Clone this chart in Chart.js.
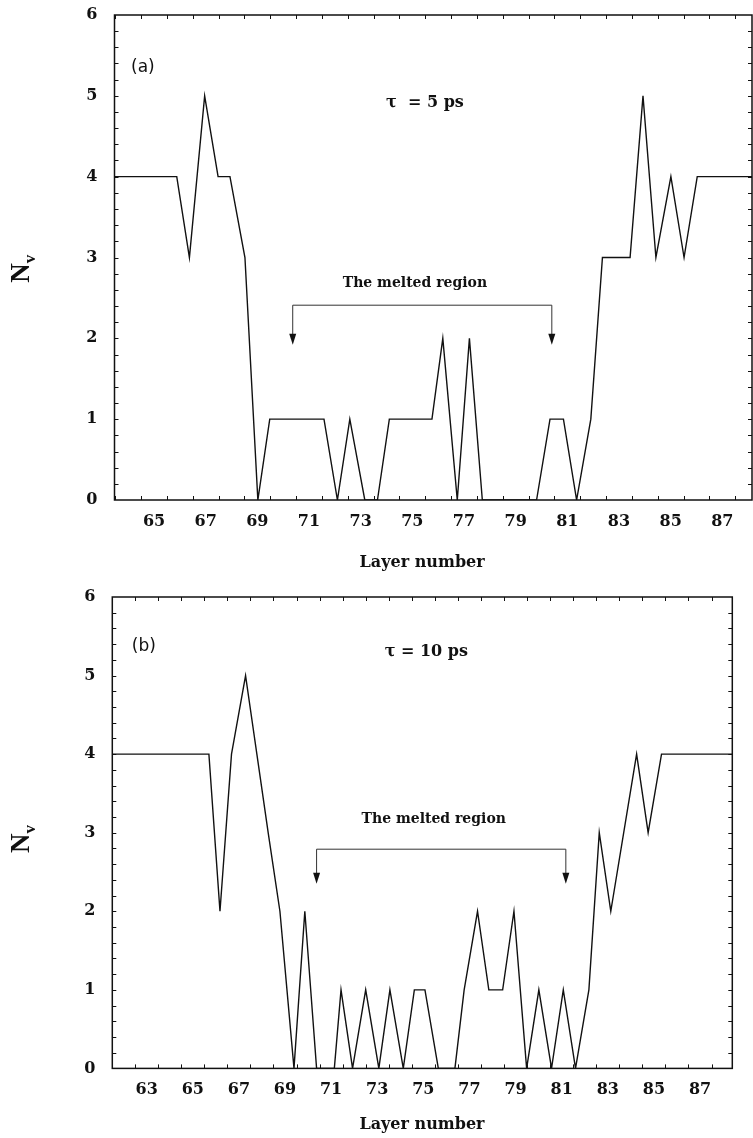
<!DOCTYPE html>
<html><head><meta charset="utf-8">
<script src="https://cdn.jsdelivr.net/npm/chart.js@4/dist/chart.umd.min.js"></script>
<style>
html,body{margin:0;padding:0;background:#fff;}
#wrap{position:relative;width:753px;height:1138px;background:#fff;}
canvas{position:absolute;left:0;}
</style></head><body>
<div id="wrap">
<canvas id="ca" width="753" height="582" style="top:0px"></canvas>
<canvas id="cb" width="753" height="556" style="top:582px"></canvas>
</div>
<script>
// ---- Panel (a): tau = 5 ps ----
const layersA = [63.47, 65.88, 66.37, 66.96, 67.48, 67.94, 68.52, 69.02, 69.48, 71.58, 72.10, 72.58, 73.16, 73.65, 74.11, 75.76, 76.18, 76.74, 77.21, 77.71, 79.81, 80.33, 80.85, 81.36, 81.91, 82.36, 83.43, 83.93, 84.43, 85.01, 85.52, 86.03, 88.15];
const nvA     = [4, 4, 3, 5, 4, 4, 3, 0, 1, 1, 0, 1, 0, 0, 1, 1, 2, 0, 2, 0, 0, 1, 1, 0, 1, 3, 3, 5, 3, 4, 3, 4, 4];
const xLabelsA = [65, 67, 69, 71, 73, 75, 77, 79, 81, 83, 85, 87];
const bracketA = [70.37, 80.40];   // layer positions of the two arrows
const bracketYA = [2.41, 1.92];    // bracket level, arrow tip level

// ---- Panel (b): tau = 10 ps ----
const layersB = [61.51, 65.70, 66.18, 66.68, 67.29, 67.78, 68.27, 68.78, 69.39, 69.86, 70.37, 71.14, 71.43, 71.93, 72.50, 73.07, 73.55, 74.13, 74.61, 75.07, 75.65, 76.37, 76.77, 77.35, 77.84, 78.44, 78.93, 79.48, 80.01, 80.56, 81.07, 81.60, 82.18, 82.63, 83.13, 84.25, 84.75, 85.33, 88.40];
const nvB     = [4, 4, 2, 4, 5, 4, 3, 2, 0, 2, 0, 0, 1, 0, 1, 0, 1, 0, 1, 1, 0, 0, 1, 2, 1, 1, 2, 0, 1, 0, 1, 0, 1, 3, 2, 4, 3, 4, 4];
const xLabelsB = [63, 65, 67, 69, 71, 73, 75, 77, 79, 81, 83, 85, 87];
const bracketB = [70.37, 81.18];
const bracketYB = [2.79, 2.35];

const yLabels = [0, 1, 2, 3, 4, 5, 6];

const SERIF = '"DejaVu Serif", "Liberation Serif", serif';

const framePlugin = {
  id: 'frame',
  afterDatasetsDraw(chart, args, o) {
    const ctx = chart.ctx, a = chart.chartArea, x = chart.scales.x, y = chart.scales.y;
    ctx.save();
    ctx.strokeStyle = '#111';
    // ticks
    ctx.lineWidth = 1;
    ctx.beginPath();
    for (let v = Math.ceil(x.min - 0.5) + 0.5; v < x.max; v += 1) {
      const px = Math.round(x.getPixelForValue(v)) + 0.5;
      ctx.moveTo(px, a.bottom); ctx.lineTo(px, a.bottom - 4);
      ctx.moveTo(px, a.top); ctx.lineTo(px, a.top + 4);
    }
    for (let i = 1; i < 30; i++) {
      const py = Math.round(y.getPixelForValue(i * 0.2)) + 0.5;
      ctx.moveTo(a.left, py); ctx.lineTo(a.left + 4, py);
      ctx.moveTo(a.right, py); ctx.lineTo(a.right - 4, py);
    }
    ctx.stroke();
    // frame
    ctx.lineWidth = 1.5;
    ctx.strokeRect(a.left, a.top, a.right - a.left, a.bottom - a.top);
    // bracket with arrows
    const bx1 = x.getPixelForValue(o.bracket[0]), bx2 = x.getPixelForValue(o.bracket[1]);
    const by = y.getPixelForValue(o.bracketY[0]), tip = y.getPixelForValue(o.bracketY[1]);
    ctx.lineWidth = 1;
    ctx.strokeStyle = '#333';
    ctx.beginPath();
    ctx.moveTo(bx1, tip - 6); ctx.lineTo(bx1, by); ctx.lineTo(bx2, by); ctx.lineTo(bx2, tip - 6);
    ctx.stroke();
    ctx.fillStyle = '#111';
    [bx1, bx2].forEach(bx => {
      ctx.beginPath();
      ctx.moveTo(bx - 3.5, tip - 11); ctx.lineTo(bx + 3.5, tip - 11); ctx.lineTo(bx, tip);
      ctx.closePath(); ctx.fill();
    });
    // texts
    ctx.fillStyle = '#111';
    ctx.textAlign = 'center'; ctx.textBaseline = 'middle';
    ctx.font = '17px "DejaVu Sans", sans-serif';
    ctx.fillText(o.panel, x.getPixelForValue(o.panelPos[0]), y.getPixelForValue(o.panelPos[1]));
    ctx.font = 'bold 16px ' + SERIF;
    ctx.fillText(o.tau, x.getPixelForValue(o.tauPos[0]), y.getPixelForValue(o.tauPos[1]));
    ctx.font = 'bold 14px ' + SERIF;
    ctx.fillText('The melted region', x.getPixelForValue(o.meltPos[0]), y.getPixelForValue(o.meltPos[1]));
    ctx.font = 'bold 16px ' + SERIF;
    ctx.fillText('Layer number', x.getPixelForValue(o.titleX), a.bottom + o.titleDy);
    // rotated N_v
    ctx.save();
    ctx.translate(a.left - o.nvDx, y.getPixelForValue(o.nvY));
    ctx.rotate(-Math.PI / 2);
    ctx.textAlign = 'left'; ctx.textBaseline = 'alphabetic';
    ctx.font = 'bold 27px "Liberation Serif", serif';
    const wN = ctx.measureText('N').width;
    ctx.font = 'bold 17px "Liberation Serif", serif';
    const wv = ctx.measureText('v').width;
    const start = -(wN + wv) / 2;
    ctx.font = 'bold 27px "Liberation Serif", serif';
    ctx.fillText('N', start, 0);
    ctx.font = 'bold 17px "Liberation Serif", serif';
    ctx.fillText('v', start + wN, 6);
    ctx.restore();
    ctx.restore();
  }
};

function makeChart(id, xs, ys, labels, geom, opts) {
  const H = geom.H;
  return new Chart(document.getElementById(id), {
    type: 'line',
    data: {
      datasets: [{
        data: xs.map((v, i) => ({ x: v, y: ys[i] })),
        borderColor: '#111', borderWidth: 1.4, pointRadius: 0, tension: 0, fill: false
      }]
    },
    options: {
      responsive: false, animation: false, devicePixelRatio: 1,
      layout: { padding: { top: geom.top, right: 753 - geom.right, left: 0, bottom: 0 } },
      plugins: { legend: { display: false }, tooltip: { enabled: false }, frame: opts },
      scales: {
        x: {
          type: 'linear', min: geom.xmin, max: geom.xmax,
          grid: { display: false, drawTicks: false }, border: { display: false },
          afterBuildTicks: s => { s.ticks = labels.map(v => ({ value: v })); },
          afterFit: s => { s.height = H - geom.bottom; s.paddingLeft = 0; s.paddingRight = 0; },
          ticks: { color: '#111', padding: 12, font: { family: SERIF, size: 16, weight: 'bold' }, maxRotation: 0, autoSkip: false, callback: v => String(v) }
        },
        y: {
          type: 'linear', min: 0, max: 6,
          grid: { display: false, drawTicks: false }, border: { display: false },
          afterBuildTicks: s => { s.ticks = yLabels.map(v => ({ value: v })); },
          afterFit: s => { s.width = geom.left; s.paddingTop = 0; s.paddingBottom = 0; },
          ticks: { color: '#111', padding: 17, font: { family: SERIF, size: 16, weight: 'bold' }, callback: v => String(v) }
        }
      }
    },
    plugins: [framePlugin]
  });
}

makeChart('ca', layersA, nvA, xLabelsA,
  { H: 582, top: 15, bottom: 500, left: 114.5, right: 752, xmin: 63.47, xmax: 88.15 },
  { bracket: bracketA, bracketY: bracketYA, panel: '(a)', panelPos: [64.57, 5.35],
    tau: 'τ  = 5 ps', tauPos: [75.49, 4.91], meltPos: [75.1, 2.68],
    titleX: 75.38, titleDy: 63, nvDx: 86, nvY: 2.86 });

makeChart('cb', layersB, nvB, xLabelsB,
  { H: 556, top: 15, bottom: 486.4, left: 112.3, right: 732.3, xmin: 61.51, xmax: 88.40 },
  { bracket: bracketB, bracketY: bracketYB, panel: '(b)', panelPos: [62.88, 5.37],
    tau: 'τ = 10 ps', tauPos: [75.13, 5.30], meltPos: [75.45, 3.17],
    titleX: 74.94, titleDy: 56, nvDx: 83, nvY: 2.92 });
</script>
</body></html>
